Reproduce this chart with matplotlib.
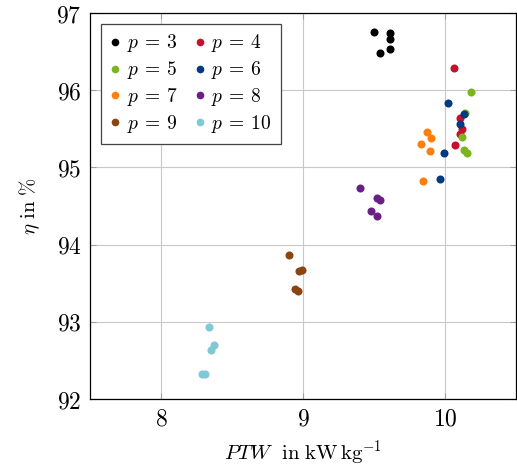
import numpy as np
import matplotlib
matplotlib.use('Agg')
from matplotlib import pyplot as plt
from matplotlib.ticker import FixedLocator, FuncFormatter

plt.rcParams['mathtext.fontset'] = 'cm'
plt.rcParams['font.family'] = 'serif'
plt.rcParams['font.serif'] = ['DejaVu Serif']

# PTW in kW/kg and efficiency in % for each number of pole pairs p
p_values = [3, 4, 5, 6, 7, 8, 9, 10]

ptw = {
    3: [9.50, 9.61, 9.61, 9.61, 9.54],
    4: [10.06, 10.10, 10.12, 10.10, 10.07],
    5: [10.18, 10.14, 10.12, 10.13, 10.15],
    6: [10.02, 10.13, 10.10, 9.99, 9.96],
    7: [9.87, 9.90, 9.83, 9.89, 9.84],
    8: [9.40, 9.52, 9.54, 9.48, 9.52],
    9: [8.90, 8.99, 8.97, 8.94, 8.96],
    10: [8.34, 8.37, 8.35, 8.29, 8.31],
}

eta = {
    3: [96.75, 96.74, 96.67, 96.54, 96.48],
    4: [96.29, 95.64, 95.50, 95.43, 95.29],
    5: [95.98, 95.71, 95.39, 95.23, 95.19],
    6: [95.83, 95.69, 95.56, 95.19, 94.85],
    7: [95.46, 95.38, 95.31, 95.21, 94.82],
    8: [94.74, 94.61, 94.58, 94.43, 94.37],
    9: [93.87, 93.67, 93.66, 93.42, 93.40],
    10: [92.93, 92.70, 92.64, 92.33, 92.33],
}

colors = ['#000000', '#c8102e', '#7ab51d', '#003a80',
          '#ff7f0e', '#6b1f86', '#8b4513', '#7fc8d6']

x_ticks = [8, 9, 10]
y_ticks = [92, 93, 94, 95, 96, 97]

fig = plt.figure(figsize=(5.17, 4.74), dpi=100)
ax = fig.add_axes([0.174, 0.158, 0.825, 0.8145])

handles = {}
for p, c in zip(p_values, colors):
    h, = ax.plot(ptw[p], eta[p], 'o', color=c, markersize=5.8, markeredgewidth=0,
                 label=r'$p\:=\:%d$' % p, zorder=3)
    handles[p] = h

ax.set_xlim(7.5, 10.5)
ax.set_ylim(92, 97)
ax.xaxis.set_major_locator(FixedLocator(x_ticks))
ax.yaxis.set_major_locator(FixedLocator(y_ticks))
ax.xaxis.set_major_formatter(FuncFormatter(lambda v, pos: r'$%d$' % v))
ax.yaxis.set_major_formatter(FuncFormatter(lambda v, pos: r'$%d$' % v))
ax.tick_params(axis='both', direction='in', length=4, width=0.8, color='#a0a0a0',
               labelsize=17, top=True, right=True, pad=6)
ax.grid(True, color='#c8c8c8', linewidth=0.8)
ax.set_axisbelow(True)
for s in ax.spines.values():
    s.set_linewidth(0.9)

ax.set_xlabel(r'$PTW\ \ \mathrm{in}\ \mathrm{kW\,kg^{-1}}$', fontsize=15, labelpad=6)
ax.set_ylabel(r'$\eta\ \mathrm{in}\ \%$', fontsize=15, labelpad=10)

# legend filled row by row: p=3, p=4 / p=5, p=6 ...
order = [3, 5, 7, 9, 4, 6, 8, 10]
leg = ax.legend([handles[p] for p in order], [handles[p].get_label() for p in order],
                loc='upper left', ncol=2, fontsize=14, fancybox=False,
                framealpha=1, edgecolor='#444444', handlelength=0.6,
                handletextpad=0.3, columnspacing=0.8, labelspacing=0.25,
                borderpad=0.45, borderaxespad=0.55, markerscale=0.95)
leg.get_frame().set_linewidth(0.9)

fig.savefig('out.png', dpi=100)
